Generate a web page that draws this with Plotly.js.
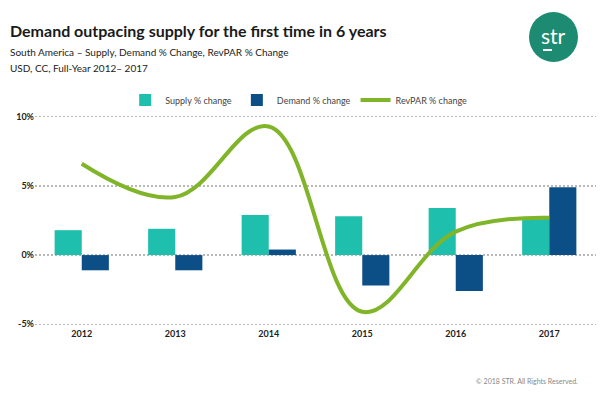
<!DOCTYPE html>
<html>
<head>
<meta charset="utf-8">
<script src="https://cdn.plot.ly/plotly-3.0.1.min.js"></script>
<style>
  html, body { margin: 0; padding: 0; background: #fff; }
  #chart { width: 600px; height: 395px; }
</style>
</head>
<body>
<div id="chart"></div>
<script>
const years = ['2012', '2013', '2014', '2015', '2016', '2017'];
const supplyChange = [1.8, 1.9, 2.9, 2.8, 3.4, 2.6];
const demandChange = [-1.1, -1.1, 0.4, -2.2, -2.6, 4.9];
const revparChange = [6.6, 4.2, 9.3, -4.1, 1.7, 2.7];
const yTicks = [-5, 0, 5, 10];
const yTickLabels = ['-5%', '0%', '5%', '10%'];

const FONT = 'Lato, "Open Sans", sans-serif';

const traces = [
  {
    type: 'bar', name: 'Supply % change', x: years, y: supplyChange,
    marker: { color: '#1fbfae' }, hoverinfo: 'skip'
  },
  {
    type: 'bar', name: 'Demand % change', x: years, y: demandChange,
    marker: { color: '#0c4f86' }, hoverinfo: 'skip'
  },
  {
    type: 'scatter', mode: 'lines', name: 'RevPAR % change', x: years, y: revparChange,
    line: { color: '#80b52a', width: 4, shape: 'spline', smoothing: 1.1 }, hoverinfo: 'skip'
  }
];

const plotW = 561, plotH = 213, L = 35, T = 114;
function px(x) { return (x - L) / plotW; }
function py(y) { return 1 - (y - T) / plotH; }

const layout = {
  width: 600, height: 395,
  paper_bgcolor: '#ffffff', plot_bgcolor: '#ffffff',
  margin: { l: 35, r: 4, t: 114, b: 68 },
  barmode: 'group', bargap: 0.42, bargroupgap: 0,
  font: { family: FONT, color: '#333' },
  showlegend: true,
  legend: {
    orientation: 'h', x: 0.47, xanchor: 'center', xref: 'paper',
    y: py(100), yanchor: 'middle',
    font: { size: 9, color: '#444', family: FONT },
    itemwidth: 30, tracegroupgap: 0, traceorder: 'normal'
  },
  xaxis: {
    type: 'category', range: [-0.5, 5.5],
    showgrid: false, zeroline: false, showline: false, ticks: '',
    tickfont: { size: 9, color: '#222', family: FONT, weight: 'bold' },
    fixedrange: true
  },
  yaxis: {
    range: [-5.2, 10.2], tickmode: 'array', tickvals: yTicks, ticktext: yTickLabels,
    showgrid: true, gridcolor: '#b8b8b8', gridwidth: 1.2, griddash: '2px,2px',
    zeroline: false, showline: false, ticks: '',
    tickfont: { size: 9, color: '#222', family: FONT, weight: 'bold' },
    fixedrange: true
  },
  shapes: [
    { type: 'circle', xref: 'paper', yref: 'paper', layer: 'above',
      x0: px(529), x1: px(578), y0: py(62), y1: py(12),
      line: { width: 0 }, fillcolor: '#1d8a72' },
    { type: 'line', xref: 'paper', yref: 'paper', layer: 'above',
      x0: px(543), x1: px(552), y0: py(50), y1: py(50),
      line: { width: 2, color: '#ffffff' } }
  ],
  annotations: [
    { text: 'Demand outpacing supply for the first time in 6 years', xref: 'paper', yref: 'paper',
      x: px(8), y: py(31), xanchor: 'left', yanchor: 'middle', showarrow: false,
      font: { size: 16, color: '#1a1a1a', family: FONT, weight: 'bold' } },
    { text: 'South America – Supply, Demand % Change, RevPAR % Change', xref: 'paper', yref: 'paper',
      x: px(8), y: py(52), xanchor: 'left', yanchor: 'middle', showarrow: false,
      font: { size: 10, color: '#222', family: FONT } },
    { text: 'USD, CC, Full-Year 2012– 2017', xref: 'paper', yref: 'paper',
      x: px(8), y: py(68), xanchor: 'left', yanchor: 'middle', showarrow: false,
      font: { size: 10, color: '#222', family: FONT } },
    { text: '© 2018 STR. All Rights Reserved.', xref: 'paper', yref: 'paper',
      x: px(580), y: py(381), xanchor: 'right', yanchor: 'middle', showarrow: false,
      font: { size: 7, color: '#888', family: FONT } },
    { text: 'str', xref: 'paper', yref: 'paper', x: px(553), y: py(35),
      xanchor: 'center', yanchor: 'middle', showarrow: false,
      font: { size: 21, color: '#ffffff', family: FONT } }
  ]
};

Plotly.newPlot('chart', traces, layout, { displayModeBar: false, staticPlot: true });
</script>
</body>
</html>
